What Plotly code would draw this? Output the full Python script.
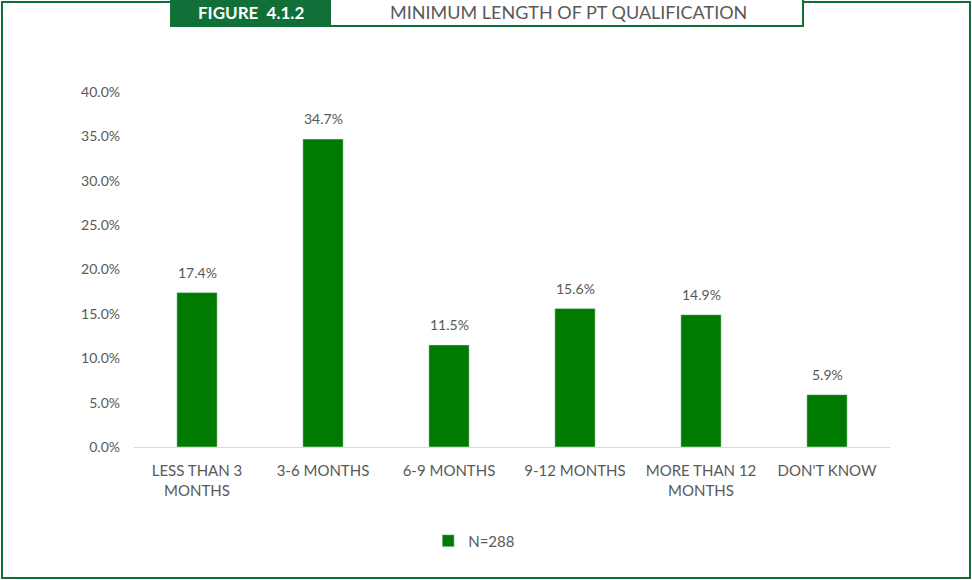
import plotly.graph_objects as go

categories = ["LESS THAN 3<br>MONTHS", "3-6 MONTHS", "6-9 MONTHS", "9-12 MONTHS", "MORE THAN 12<br>MONTHS", "DON'T KNOW"]
values = [17.4, 34.7, 11.5, 15.6, 14.9, 5.9]
series_name = "N=288"
tick_vals = [0, 5, 10, 15, 20, 25, 30, 35, 40]
tick_text = ["0.0%", "5.0%", "10.0%", "15.0%", "20.0%", "25.0%", "30.0%", "35.0%", "40.0%"]

W, H = 972, 580
L, R, T, B = 134, 82, 92, 133
PW, PH = W - L - R, H - T - B

def px(x):
    return (x - L) / PW

def py(y):
    return (H - B - y) / PH

GREEN = "#007a00"
DARK = "#107038"
GRAY = "#595959"
FONT = "Lato"

fig = go.Figure()
fig.add_trace(go.Bar(
    x=categories, y=values, name=series_name,
    marker=dict(color=GREEN),
))

shapes = [
    dict(type="rect", xref="paper", yref="paper", x0=px(2), x1=px(970), y0=py(2), y1=py(578),
         line=dict(color=DARK, width=2), fillcolor="rgba(0,0,0,0)", layer="below"),
    dict(type="rect", xref="paper", yref="paper", x0=px(330), x1=px(803), y0=py(-10), y1=py(26),
         line=dict(color=DARK, width=2), fillcolor="white"),
    dict(type="rect", xref="paper", yref="paper", x0=px(170), x1=px(331), y0=py(-10), y1=py(27),
         line=dict(width=0), fillcolor=DARK),
]

annotations = [
    dict(text="<b>FIGURE  4.1.2</b>", xref="paper", yref="paper", x=px(251), y=py(12), showarrow=False,
         xanchor="center", yanchor="middle", borderpad=0, font=dict(color="white", size=17, family=FONT)),
    dict(text="MINIMUM LENGTH OF PT QUALIFICATION", xref="paper", yref="paper", x=px(568), y=py(12),
         showarrow=False, xanchor="center", yanchor="middle", borderpad=0,
         font=dict(color=GRAY, size=18, family=FONT)),
]
for c, v in zip(categories, values):
    annotations.append(dict(text=f"{v:.1f}%", x=c, y=v, xref="x", yref="y", showarrow=False,
                            xanchor="center", yanchor="bottom", yshift=10,
                            font=dict(color=GRAY, size=14, family=FONT)))

fig.update_layout(
    width=W, height=H,
    margin=dict(l=L, r=R, t=T, b=B),
    paper_bgcolor="white", plot_bgcolor="white",
    bargap=0.68,
    showlegend=True,
    legend=dict(orientation="h", x=0.45, xanchor="center", y=py(541), yanchor="middle",
                font=dict(color=GRAY, size=15, family=FONT), itemwidth=30),
    shapes=shapes, annotations=annotations,
    font=dict(family=FONT, color=GRAY),
)
fig.update_yaxes(range=[0, 40], tickvals=tick_vals, ticktext=tick_text, showgrid=False,
                 zeroline=False, showline=False, ticklabelstandoff=13,
                 tickfont=dict(size=14, color=GRAY, family=FONT))
fig.update_xaxes(showline=True, linecolor="#d9d9d9", linewidth=1, showgrid=False,
                 ticklabelstandoff=10,
                 tickfont=dict(size=15, color=GRAY, family=FONT))

fig.write_html("out.html", config={"displayModeBar": False},
               post_script="document.body.style.margin='0';")
